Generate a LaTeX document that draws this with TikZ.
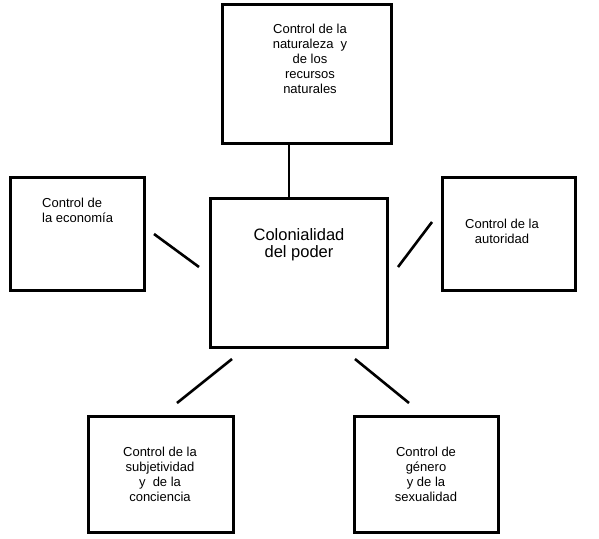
\documentclass[tikz,border=0pt]{standalone}
\usepackage{fontspec}
\setmainfont{Liberation Sans}
\begin{document}
\begin{tikzpicture}[x=1pt,y=-1pt,
  box/.style={draw=black,line width=3pt,fill=white},
  lbl/.style={inner sep=0pt,align=center,font=\fontsize{13}{15}\selectfont},
  link/.style={line width=2.6pt}]
\useasboundingbox (0,0) rectangle (599,538);
% boxes
\draw[box] (222,4) rectangle (391,143);
\coordinate (topS) at (289,143);
\draw[box] (210,198) rectangle (387,347);
\coordinate (cenN) at (289,198);
\draw[box] (10,177) rectangle (144,290);
\draw[box] (442,177) rectangle (575,290);
\draw[box] (88,416) rectangle (233,532);
\draw[box] (354,416) rectangle (498,532);
% texts
\node[lbl] (tnat) at (310,58.5) {Control de la\\naturaleza\ \ y\\de los\\recursos\\naturales};
\node[lbl,align=left,anchor=west] (teco) at (42,210.5) {Control de\\la economía};
\node[lbl] (taut) at (502,231) {Control de la\\autoridad};
\node[lbl,font=\fontsize{16.5}{17.5}\selectfont] (tcol) at (299,244.5) {Colonialidad\\del poder};
\node[lbl] (tsub) at (160,474.5) {Control de la\\subjetividad\\y\ \ de la\\conciencia};
\node[lbl] (tgen) at (426,474.5) {Control de\\género\\y de la\\sexualidad};
% connectors
\coordinate (l1) at (154,234); \coordinate (l2) at (199,267);
\coordinate (r1) at (398,267); \coordinate (r2) at (432,222);
\coordinate (bl1) at (177,403); \coordinate (bl2) at (232,359);
\coordinate (br1) at (355,359); \coordinate (br2) at (409,403);
\draw[link] (topS) -- (cenN);
\draw[link] (l1) -- (l2);
\draw[link] (r1) -- (r2);
\draw[link] (bl1) -- (bl2);
\draw[link] (br1) -- (br2);
\end{tikzpicture}
\end{document}
